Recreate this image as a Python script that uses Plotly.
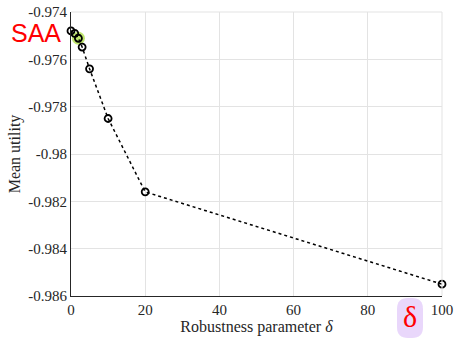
import plotly.graph_objects as go

delta = [0, 1, 2, 3, 5, 10, 20, 100]
utility = [-0.9748, -0.97490, -0.97511, -0.97548, -0.97640, -0.97850, -0.98160, -0.98550]
x_ticks = [0, 20, 40, 60, 80, 100]
y_ticks = [-0.986, -0.984, -0.982, -0.98, -0.978, -0.976, -0.974]
y_labels = ["-0.986", "-0.984", "-0.982", "-0.98", "-0.978", "-0.976", "-0.974"]
highlight_x = [2]
highlight_y = [-0.97511]

W, H = 454, 338
L, R, T, B = 71, 12, 12, 42
fig = go.Figure()
fig.add_trace(go.Scatter(x=highlight_x, y=highlight_y, mode="markers",
                         marker=dict(size=13, color="rgba(170,220,60,0.75)", line=dict(width=0)),
                         showlegend=False, hoverinfo="skip"))
fig.add_trace(go.Scatter(x=delta, y=utility, mode="lines+markers",
                         line=dict(color="black", dash="dot", width=1.5),
                         marker=dict(symbol="circle-open", size=7, color="black", line=dict(width=1.8)),
                         showlegend=False, cliponaxis=False))

font = "Liberation Serif"
fig.update_layout(
    width=W, height=H, margin=dict(l=L, r=R, t=T, b=B),
    plot_bgcolor="white", paper_bgcolor="white",
    font=dict(family=font, size=15, color="#262626"),
    xaxis=dict(range=[0, 100], tickvals=x_ticks, showgrid=True, gridcolor="#e3e3e3",
               gridwidth=1, showline=True, linecolor="#262626", linewidth=1.2, mirror=False,
               zeroline=False, ticks="", tickfont=dict(family=font, size=15), automargin=False,
               title=dict(text="Robustness parameter <i>δ</i>", font=dict(family=font, size=16), standoff=2)),
    yaxis=dict(range=[-0.986, -0.974], tickvals=y_ticks, ticktext=y_labels, showgrid=True,
               gridcolor="#e3e3e3", gridwidth=1, showline=True, linecolor="#262626", linewidth=1.2,
               zeroline=False, ticks="", tickfont=dict(family=font, size=15), automargin=False,
               title=dict(text="Mean utility", font=dict(family=font, size=16), standoff=3)),
)
# top/right box lines in light gray
fig.add_shape(type="line", xref="paper", yref="paper", x0=0, x1=1, y0=1, y1=1,
              line=dict(color="#e3e3e3", width=1))
fig.add_shape(type="line", xref="paper", yref="paper", x0=1, x1=1, y0=0, y1=1,
              line=dict(color="#e3e3e3", width=1))

pw, ph = W - L - R, H - T - B
def px(xp): return (xp - L) / pw
def py(yp): return (H - B - yp) / ph

# rounded lavender box behind delta
x0, x1, y0, y1, r = px(397), px(423), py(338), py(298), 11
rx, ry = r / pw, r / ph
path = (f"M {x0+rx},{y1} L {x1-rx},{y1} Q {x1},{y1} {x1},{y1-ry} L {x1},{y0+ry} "
        f"Q {x1},{y0} {x1-rx},{y0} L {x0+rx},{y0} Q {x0},{y0} {x0},{y0+ry} L {x0},{y1-ry} "
        f"Q {x0},{y1} {x0+rx},{y1} Z")
fig.add_shape(type="path", xref="paper", yref="paper", path=path,
              fillcolor="rgba(228,205,250,0.8)", line=dict(width=0), layer="above")
fig.add_annotation(xref="paper", yref="paper", x=px(410), y=py(316), text="δ", showarrow=False,
                   font=dict(family="Liberation Serif", size=30, color="red"), xanchor="center", yanchor="middle")
fig.add_annotation(xref="paper", yref="paper", x=px(36), y=py(33), text="SAA", showarrow=False,
                   font=dict(family="Liberation Sans", size=25, color="red"), xanchor="center", yanchor="middle",
                   borderpad=0)

fig.write_html("out.html")
